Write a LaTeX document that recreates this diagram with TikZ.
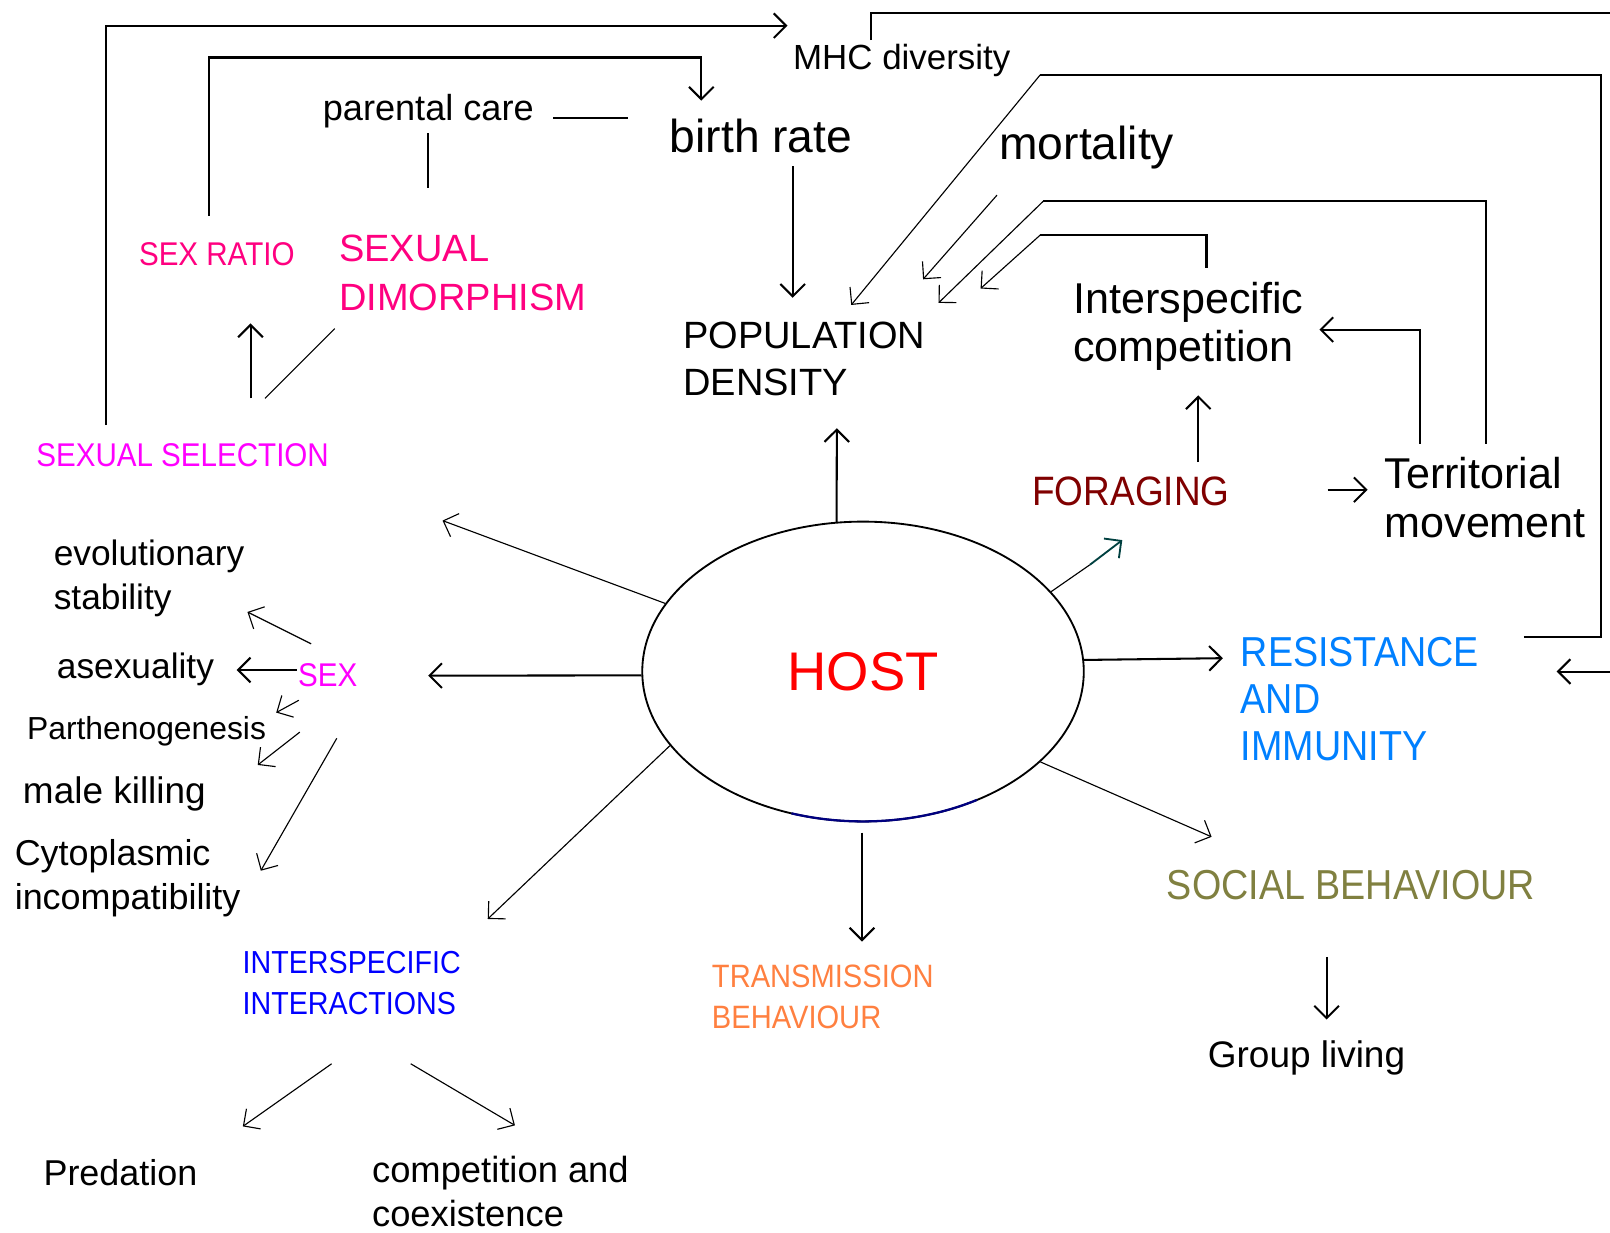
\documentclass[tikz,border=0pt]{standalone}
\usepackage{fontspec}
\setmainfont{Liberation Sans}
\newfontfamily\nar[FakeStretch=0.9]{Liberation Sans}
\usetikzlibrary{arrows.meta,shapes.geometric}
\definecolor{pinkA}{HTML}{FF0080}
\definecolor{magA}{HTML}{FF00FF}
\definecolor{forC}{HTML}{800000}
\definecolor{resC}{HTML}{0080FF}
\definecolor{socC}{HTML}{808040}
\definecolor{trC}{HTML}{FF8040}
\definecolor{intC}{HTML}{0000FF}
\definecolor{tealC}{HTML}{004040}
\definecolor{navyC}{HTML}{000080}
\tikzset{
  lbl/.style={anchor=base west, inner sep=0pt},
  fs/.style={font=\fontsize{#1}{#1}\selectfont},
  nfs/.style={font=\nar\fontsize{#1}{#1}\selectfont},
  conn/.style={line width=1pt},
  thinl/.style={line width=0.55pt},
  arr/.style={-{Straight Barb[length=6pt,width=12pt]}}
}
\begin{document}
\begin{tikzpicture}[x=0.5pt,y=-0.5pt]
\fill[white] (0,0) rectangle (1568,1200);
\useasboundingbox (0,0) rectangle (1568,1200);

% ---------- text nodes ----------
\node[lbl, fs=17pt] (mhc) at (772,68) {MHC diversity};
\node[lbl, fs=17.6pt] (pc) at (314,117) {parental care};
\node[lbl, fs=22.5pt] (br) at (652,149) {birth rate};
\node[lbl, fs=22.5pt] (mort) at (973,155) {mortality};
\node[lbl, nfs=16pt, text=pinkA] (sr) at (135,259) {SEX RATIO};
\node[lbl, fs=18.5pt, text=pinkA] (sd1) at (330,255) {SEXUAL};
\node[lbl, fs=18.5pt, text=pinkA] (sd2) at (330,302) {DIMORPHISM};
\node[lbl, fs=18.5pt] (pd1) at (665,339) {POPULATION};
\node[lbl, fs=18.5pt] (pd2) at (665,385) {DENSITY};
\node[lbl, fs=21pt] (ic1) at (1045,305) {Interspecific};
\node[lbl, fs=21pt] (ic2) at (1045,352) {competition};
\node[lbl, nfs=20pt, text=forC] (for) at (1005,492) {FORAGING};
\node[lbl, fs=21pt] (tm1) at (1348,476) {Territorial};
\node[lbl, fs=21pt] (tm2) at (1348,523) {movement};
\node[lbl, nfs=16pt, text=magA] (ss) at (35,454) {SEXUAL SELECTION};
\node[lbl, fs=17.2pt] (es1) at (52,551) {evolutionary};
\node[lbl, fs=17.2pt] (es2) at (52,594) {stability};
\node[lbl, fs=17.2pt] (asx) at (55,661) {asexuality};
\node[lbl, nfs=16pt, text=magA] (sex) at (290,669) {SEX};
\node[lbl, fs=15.5pt] (par) at (26,720) {Parthenogenesis};
\node[lbl, fs=18pt] (mk) at (22,783) {male killing};
\node[lbl, fs=17.5pt] (ci1) at (14,843) {Cytoplasmic};
\node[lbl, fs=17.5pt] (ci2) at (14,886) {incompatibility};
\node[lbl, nfs=15.5pt, text=intC] (ii1) at (236,948) {INTERSPECIFIC};
\node[lbl, nfs=15.5pt, text=intC] (ii2) at (236,988) {INTERACTIONS};
\node[lbl, nfs=15.75pt, text=trC] (tb1) at (693,962) {TRANSMISSION};
\node[lbl, nfs=15.75pt, text=trC] (tb2) at (693,1002) {BEHAVIOUR};
\node[lbl, nfs=20.4pt, text=resC] (ri1) at (1208,649) {RESISTANCE};
\node[lbl, nfs=20.4pt, text=resC] (ri2) at (1208,695) {AND};
\node[lbl, nfs=20.4pt, text=resC] (ri3) at (1208,741) {IMMUNITY};
\node[lbl, nfs=20.4pt, text=socC] (sb) at (1136,876) {SOCIAL BEHAVIOUR};
\node[lbl, fs=18pt] (gl) at (1176,1040) {Group living};
\node[lbl, fs=17.5pt] (pred) at (42,1155) {Predation};
\node[lbl, fs=17.7pt] (cc1) at (362,1152) {competition and};
\node[lbl, fs=17.7pt] (cc2) at (362,1194) {coexistence};

% ---------- HOST ellipse ----------
\node[draw, ellipse, line width=0.9pt, minimum width=215pt, minimum height=146pt,
      inner sep=0pt, fs=26.5pt, text=red] (host) at (840.5,654) {HOST};
\draw[navyC, line width=1.1pt] (951.5,779) arc[start angle=-58.9, end angle=-108.9,
      x radius=107.5pt, y radius=73pt];

% ---------- named connector ends ----------
\coordinate (ssA) at (103,414);   \coordinate (mhcA) at (767,25);
\coordinate (srA) at (204,210);   \coordinate (brA) at (683,98);
\coordinate (pcA) at (539,115);   \coordinate (brB) at (612,115);
\coordinate (pcB) at (417,130);   \coordinate (sdA) at (417,183);
\coordinate (brC) at (772,162);   \coordinate (pdA) at (772,290);
\coordinate (ssB) at (244,388);   \coordinate (srB) at (244,315);
\coordinate (ssC) at (258,388);   \coordinate (sdB) at (326,320);
\coordinate (mhcB) at (848,39);   \coordinate (edgeA) at (1568,13);
\coordinate (riA) at (1484,620);  \coordinate (pdB) at (829,297);
\coordinate (edgeB) at (1568,654);\coordinate (riB) at (1516,654);
\coordinate (mortA) at (971,190); \coordinate (pdC) at (899,272);
\coordinate (tmA) at (1447,432);  \coordinate (pdD) at (914,295);
\coordinate (icA) at (1175,261);  \coordinate (pdE) at (955,281);
\coordinate (tmB) at (1383,432);  \coordinate (icB) at (1285,321);
\coordinate (forA) at (1167,450); \coordinate (icC) at (1167,385);
\coordinate (forB) at (1293,477); \coordinate (tmC) at (1332,477);
\coordinate (pdF) at (815,417);
\coordinate (ulA) at (431,507);
\coordinate (sexA) at (417,658);
\coordinate (iiA) at (475,895);
\coordinate (hostB) at (839.5,811); \coordinate (tbA) at (839.5,917);
\coordinate (sbA) at (1180,815);
\coordinate (riC) at (1191,641);
\coordinate (forM) at (1061.5,550); \coordinate (forC2) at (1093,526);
\coordinate (sexB) at (303,627);  \coordinate (esA) at (241,596);
\coordinate (sexC) at (289,652.5);\coordinate (asA) at (230.5,652.5);
\coordinate (sexD) at (291,682);  \coordinate (parA) at (269,694);
\coordinate (sexE) at (292,713);  \coordinate (mkA) at (251,745);
\coordinate (sexF) at (328,719);  \coordinate (ciA) at (254,848);
\coordinate (iiB) at (323,1036);  \coordinate (predA) at (236.5,1097);
\coordinate (iiC) at (400,1036);  \coordinate (ccA) at (501.5,1096);
\coordinate (sbB) at (1292,932);  \coordinate (glA) at (1292,993);

% ---------- connectors: top region ----------
\draw[conn, arr] (ssA) |- (mhcA);
\draw[conn, arr] (srA) |- (683,56) -- (brA);
\draw[conn] (pcA) -- (brB);
\draw[conn] (pcB) -- (sdA);
\draw[conn, arr] (brC) -- (pdA);
\draw[conn, arr] (ssB) -- (srB);
\draw[thinl] (ssC) -- (sdB);
\draw[conn] (mhcB) |- (edgeA);
\draw[conn] (riA) -| (1559,73) -- (1013,73);
\draw[thinl, arr] (1013,73) -- (pdB);
\draw[conn, arr] (edgeB) -- (riB);
\draw[thinl, arr] (mortA) -- (pdC);
\draw[conn] (tmA) |- (1016,196);
\draw[thinl, arr] (1016,196) -- (pdD);
\draw[conn] (icA) |- (1013,229);
\draw[thinl, arr] (1013,229) -- (pdE);
\draw[conn, arr] (tmB) |- (icB);
\draw[conn, arr] (forA) -- (icC);
\draw[conn, arr] (forB) -- (tmC);

% ---------- connectors: from HOST ----------
\draw[conn, arr] (host.100) -- (pdF);
\draw[thinl, arr] (host.161) -- (ulA);
\draw[conn, arr] (host.181) -- (sexA);
\draw[thinl, arr] (host.201) -- (iiA);
\draw[conn, arr] (hostB) -- (tbA);
\draw[thinl, arr] (host.333) -- (sbA);
\draw[conn, arr] (host.3) -- (riC);
\draw[thinl] (host.23) -- (forM);
\draw[tealC, line width=0.9pt, arr] (forM) -- (forC2);

% ---------- connectors: SEX and lower ----------
\draw[thinl, arr] (sexB) -- (esA);
\draw[conn, arr] (sexC) -- (asA);
\draw[thinl, arr] (sexD) -- (parA);
\draw[thinl, arr] (sexE) -- (mkA);
\draw[thinl, arr] (sexF) -- (ciA);
\draw[thinl, arr] (iiB) -- (predA);
\draw[thinl, arr] (iiC) -- (ccA);
\draw[conn, arr] (sbB) -- (glA);
\end{tikzpicture}
\end{document}
